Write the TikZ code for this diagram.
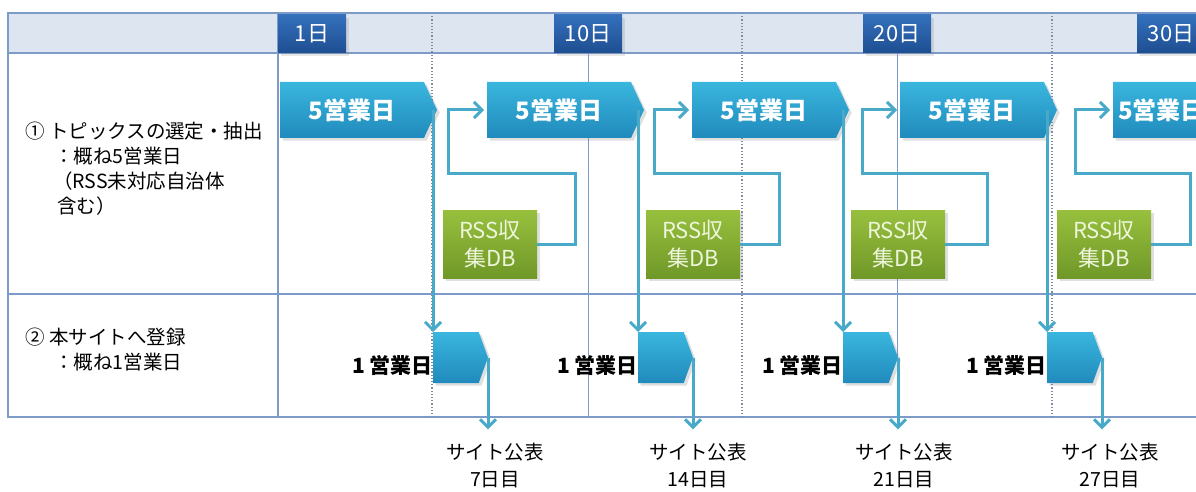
\documentclass[tikz,border=0pt]{standalone}
\usepackage{fontspec}
\setmainfont{Noto Sans CJK JP}
\usepackage{tikz}
\usetikzlibrary{positioning, shapes.symbols, arrows.meta, calc, shadows}
\definecolor{gridline}{RGB}{125,155,200}
\definecolor{headfill}{RGB}{221,229,240}
\definecolor{daytop}{RGB}{52,112,188}
\definecolor{daybot}{RGB}{30,78,145}
\definecolor{steptop}{RGB}{58,182,222}
\definecolor{stepbot}{RGB}{32,138,188}
\definecolor{dbtop}{RGB}{152,192,62}
\definecolor{dbbot}{RGB}{112,152,40}
\definecolor{dbtext}{RGB}{238,246,220}
\definecolor{flowline}{RGB}{72,170,200}
\definecolor{dotline}{RGB}{130,140,160}
\tikzset{
    >={Straight Barb[length=8pt,width=16pt]}, % open arrow heads
    grid/.style={draw=gridline, line width=1.2pt}, % table lines
    dayline/.style={draw=gridline, line width=1pt}, % line under a day mark
    halfline/.style={draw=dotline, dotted, line width=1.2pt},
    daybox/.style={rectangle, top color=daytop, bottom color=daybot, text=white,
        minimum width=68pt, minimum height=38pt, inner sep=0pt,
        font=\fontsize{22}{22}\selectfont, drop shadow={opacity=0.2}},
    bigstep/.style={signal, signal to=east, signal pointer angle=130,
        top color=steptop, bottom color=stepbot, text=white,
        minimum width=157pt, minimum height=56pt, inner sep=0pt, outer sep=0pt,
        font=\bfseries\fontsize{24}{24}\selectfont, drop shadow={opacity=0.25}},
    smallstep/.style={signal, signal to=east, signal pointer angle=140,
        top color=steptop, bottom color=stepbot,
        minimum width=55pt, minimum height=51pt, inner sep=0pt, outer sep=0pt,
        drop shadow={opacity=0.25}},
    dbbox/.style={rectangle, top color=dbtop, bottom color=dbbot, text=dbtext,
        minimum width=94pt, minimum height=68pt, inner sep=0pt, align=center,
        font=\fontsize{22}{28}\selectfont, drop shadow={opacity=0.25}},
    flow/.style={draw=flowline, line width=3pt, ->}, % connectors
    steplabel/.style={font=\bfseries\fontsize{21}{21}\selectfont, inner sep=0pt},
    pubtext/.style={align=center, inner sep=0pt, font=\fontsize{19.5}{27}\selectfont},
    rowtext/.style={align=left, anchor=north west, inner sep=0pt,
        font=\fontsize{19.5}{25}\selectfont},
}

\begin{document}
\begin{tikzpicture}[x=1pt, y=-1pt]
\useasboundingbox (0,0) rectangle (1196,492);
% table
\fill[headfill] (8,13) rectangle (1196,53);
\draw[grid] (1196,13) -- (8,13) -- (8,417) -- (1196,417);
\draw[grid] (8,53) -- (1196,53);
\draw[grid] (8,294) -- (1196,294);
\draw[grid] (278,13) -- (278,417);
\draw[halfline] (432,13) -- (432,417);
\draw[halfline] (742,13) -- (742,417);
\draw[halfline] (1052,13) -- (1052,417);
% day marks
\node[daybox] (d1) at (312,34) {1日};
\node[daybox] (d10) at (588,34) {10日};
\node[daybox] (d20) at (897,34) {20日};
\node[daybox] (d30) at (1171,34) {30日};
\draw[dayline] (d10.south) -- (d10.south |- 0,417);
\draw[dayline] (d20.south) -- (d20.south |- 0,417);
% row titles
\node[rowtext] (t1) at (25,122) {① トピックスの選定・抽出\\
    \hspace*{29pt}：概ね5営業日\\
    \hspace*{28pt}（RSS未対応自治体\\
    \hspace*{32pt}含む）};
\node[rowtext] (t2) at (25,328) {② 本サイトへ登録\\
    \hspace*{29pt}：概ね1営業日};
% RSS collection
\node[dbbox] (db1) at (490,244) {RSS収\\集DB};
\node[dbbox] (db2) at (693,244) {RSS収\\集DB};
\node[dbbox] (db3) at (898,244) {RSS収\\集DB};
\node[dbbox] (db4) at (1104,244) {RSS収\\集DB};
% selection steps
\node[bigstep, anchor=west] (c1) at (280,110) {5営業日};
\node[bigstep, right=50pt of c1] (c2) {5営業日};
\node[bigstep, right=48pt of c2] (c3) {5営業日};
\node[bigstep, right=51pt of c3] (c4) {5営業日};
\node[bigstep, right=56pt of c4, minimum width=110pt] (c5) {5営業日};
% registration steps
\node[smallstep, anchor=north west] (s1) at (433,332) {};
\node[smallstep, anchor=north west] (s2) at (638,332) {};
\node[smallstep, anchor=north west] (s3) at (843,332) {};
\node[smallstep, anchor=north west] (s4) at (1047,332) {};
\node[steplabel, left=0pt of s1, yshift=-8pt] (l1) {1 営業日};
\node[steplabel, left=0pt of s2, yshift=-8pt] (l2) {1 営業日};
\node[steplabel, left=0pt of s3, yshift=-8pt] (l3) {1 営業日};
\node[steplabel, left=0pt of s4, yshift=-8pt] (l4) {1 営業日};
% publication
\node[pubtext] (p1) at (495,466) {サイト公表\\7日目};
\node[pubtext] (p2) at (698,466) {サイト公表\\14日目};
\node[pubtext] (p3) at (904,466) {サイト公表\\21日目};
\node[pubtext] (p4) at (1110,466) {サイト公表\\27日目};
% connectors
\draw[flow] (s1.north west |- c1.east) -- (s1.north west);
\draw[flow] (s2.north west |- c2.east) -- (s2.north west);
\draw[flow] (s3.north west |- c3.east) -- (s3.north west);
\draw[flow] (s4.north west |- c4.east) -- (s4.north west);
\draw[flow, shorten >=14pt] (s1.east) -- (s1.east |- p1.north);
\draw[flow, shorten >=14pt] (s2.east) -- (s2.east |- p2.north);
\draw[flow, shorten >=14pt] (s3.east) -- (s3.east |- p3.north);
\draw[flow, shorten >=14pt] (s4.east) -- (s4.east |- p4.north);
\draw[flow, shorten >=3pt] (db1.east) -- ++(38,0) |- ($(c2.west)+(-39,63)$) |- (c2.west);
\draw[flow, shorten >=3pt] (db2.east) -- ++(39,0) |- ($(c3.west)+(-38,63)$) |- (c3.west);
\draw[flow, shorten >=3pt] (db3.east) -- ++(42,0) |- ($(c4.west)+(-38,63)$) |- (c4.west);
\draw[flow, shorten >=3pt] (db4.east) -- ++(39,0) |- ($(c5.west)+(-38,63)$) |- (c5.west);
\end{tikzpicture}
\end{document}
